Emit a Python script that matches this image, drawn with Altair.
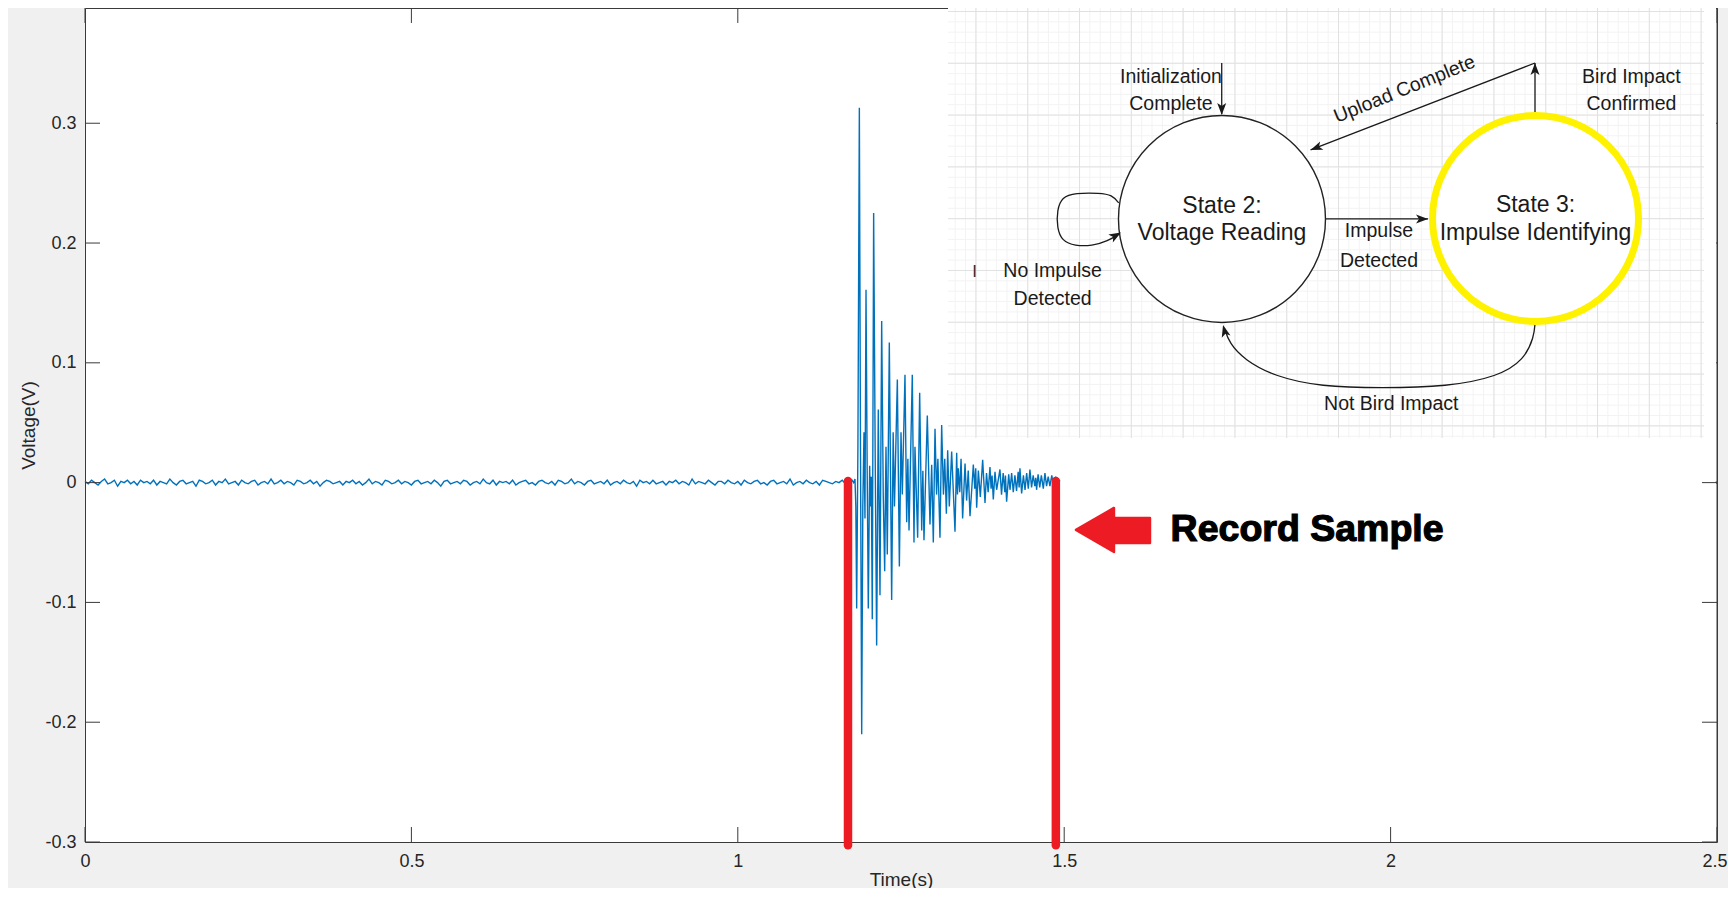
import altair as alt
import pandas as pd
import numpy as np

# ---------------- signal data ----------------
# baseline noise before the impulse, in millivolts, one value every 5 ms from t = 0 s
baseline_step = 0.005
baseline_mv = [
    1, -1, 2, 0, -2, 1, 3, -1, 0, 2, -3, 1, 0, 2, -1, 1, -2, 2, 0, 1,
    -1, 2, -2, 1, 0, -1, 3, 0, -2, 1, 2, -1, 0, 1, -3, 2, 1, -1, 0, 2,
    -2, 1, 0, 3, -1, 0, 1, -2, 2, 0, -1, 1, 2, -2, 0, 1, -1, 3, -1, 0,
    2, -1, 1, 0, -2, 2, 1, -1, 0, 2, -1, 1, -3, 0, 2, 1, -1, 0, 1, -2,
    1, 0, 2, -1, 1, -2, 0, 3, -1, 1, 0, -2, 2, 1, -1, 0, 2, -1, 1, 0,
    -2, 1, 2, -1, 0, 1, -1, 2, 0, -3, 1, 2, -1, 0, 1, -1, 2, 1, -2, 0,
    1, -1, 3, 0, -1, 2, -2, 1, 0, 1, -1, 2, -2, 0, 1, 2, -1, 0, -2, 1,
    2, 0, -1, 1, -2, 2, 1, -1, 0, 3, -1, 1, 0, -2, 1, 2, -1, 0, 1, -1,
    2, -2, 0, 1, -1, 2, 0, -1, 1, -3, 2, 0, 1, -1, 2, -1, 0, 1, -2, 1,
    0, 2, -1, 1, 0, -2, 3, -1, 1, 0, -1, 2, 0, -2, 1, 1, -1, 2, 0, -1,
    1, -2, 2, 0, -1, 1, 2, -1, 0, -2, 1, 2, -1, 0, 1, -1, 3, -2, 0, 1,
    -1, 2, 0, -1, 1, -2, 2, 1, 0, -1, 1, 0, 2, -1,
]

# impulse response (s, V)
imp_t = [
    1.1700, 1.1725, 1.1750, 1.1775, 1.1795, 1.1808, 1.1821, 1.1840, 1.1862, 1.1880,
    1.1898, 1.1915, 1.1933, 1.1948, 1.1964, 1.1982, 1.1999, 1.2020, 1.2030, 1.2045,
    1.2060, 1.2081, 1.2105, 1.2127, 1.2152, 1.2178, 1.2204, 1.2228, 1.2250, 1.2270,
    1.2290, 1.2321, 1.2357, 1.2380, 1.2400, 1.2444, 1.2475, 1.2500, 1.2520, 1.2561,
    1.2587, 1.2605, 1.2623, 1.2673, 1.2699, 1.2714, 1.2755, 1.2786, 1.2817, 1.2835,
    1.2852, 1.2903, 1.2944, 1.2970, 1.2995, 1.3021, 1.3045, 1.3065, 1.3097, 1.3123,
    1.3150, 1.3170, 1.3195, 1.3215, 1.3240, 1.3276, 1.3327, 1.3353, 1.3365, 1.3378,
    1.3400, 1.3420, 1.3444, 1.3481, 1.3505, 1.3530, 1.3557, 1.3608, 1.3630, 1.3645,
    1.3659, 1.3685, 1.3715, 1.3751, 1.3787, 1.3810, 1.3835, 1.3863, 1.3880, 1.3895,
    1.3914, 1.3940, 1.3965, 1.4016, 1.4040, 1.4065, 1.4090, 1.4100, 1.4118, 1.4150,
    1.4170, 1.4195, 1.4220, 1.4245, 1.4270, 1.4295, 1.4310, 1.4322, 1.4348, 1.4375,
    1.4400, 1.4425, 1.4450, 1.4475, 1.4500, 1.4525, 1.4550, 1.4565, 1.4577, 1.4600,
    1.4625, 1.4650, 1.4680, 1.4705, 1.4730, 1.4755, 1.4781, 1.4810, 1.4840, 1.4870,
    1.4900, 1.4934,
]
imp_v = [
    0.001, -0.001, 0.002, 0.000, 0.003, -0.020, -0.105, 0.030, 0.313, 0.020,
    -0.210, -0.020, 0.042, -0.030, 0.161, 0.010, -0.105, 0.014, -0.020, 0.005,
    -0.114, 0.225, 0.020, -0.136, 0.061, -0.094, 0.135, -0.010, -0.074, 0.030,
    -0.060, 0.117, -0.098, 0.042, -0.020, 0.086, -0.070, 0.042, -0.010, 0.090,
    -0.033, 0.020, -0.040, 0.090, -0.050, 0.030, -0.046, 0.075, -0.040, 0.010,
    -0.048, 0.056, -0.035, 0.015, -0.050, 0.045, -0.010, 0.020, -0.046, 0.048,
    -0.010, 0.020, -0.026, 0.027, -0.020, 0.026, -0.041, 0.025, -0.010, 0.012,
    -0.008, 0.020, -0.030, 0.016, -0.015, 0.010, -0.028, 0.015, -0.005, 0.012,
    -0.021, 0.010, -0.012, 0.019, -0.017, 0.008, -0.008, 0.013, -0.005, 0.006,
    -0.014, 0.009, -0.006, 0.011, -0.010, 0.008, -0.008, 0.006, -0.016, 0.007,
    -0.006, 0.008, -0.008, 0.006, -0.007, 0.009, -0.004, 0.012, -0.009, 0.006,
    -0.006, 0.008, -0.005, 0.011, -0.004, 0.006, -0.003, 0.004, -0.006, 0.007,
    -0.004, 0.006, -0.005, 0.008, -0.003, 0.005, -0.003, 0.006, -0.004, 0.005,
    -0.002, 0.002,
]

# the last visible sample at the right edge
tail_t = [2.4985, 2.5]
tail_v = [0.001, -0.001]

x_ticks = [0, 0.5, 1, 1.5, 2, 2.5]
y_ticks = [-0.3, -0.2, -0.1, 0, 0.1, 0.2, 0.3, 0.4]

# ---------------- annotations (positions in data units: s, V) ----------------
record_t = [1.1688, 1.4872]          # red "record sample" markers
record_top, record_bottom = 0.0014, -0.3028
record_arrow = (1.5165, -0.0395)
record_label = ("Record Sample", 1.6630, -0.0484)

# inset state diagram
inset_box = (1.3220, 2.4985, 0.3962, 0.0373)
state_names = ["State 2:", "State 3:"]
state_desc = ["Voltage Reading", "Impulse Identifying"]
state_t = [1.7417, 2.2220]
state_v = [0.2201, 0.2205]

small_labels = [
    ("Initialization", 1.6636, 0.3336),
    ("Complete", 1.6636, 0.3111),
    ("Bird Impact", 2.3689, 0.3336),
    ("Confirmed", 2.3689, 0.3111),
    ("Impulse", 1.9822, 0.2048),
    ("Detected", 1.9822, 0.1803),
    ("No Impulse", 1.4823, 0.1715),
    ("Detected", 1.4823, 0.1483),
    ("Not Bird Impact", 2.0010, 0.0607),
]
upload_label = ("Upload Complete", 2.0213, 0.3284)

straight_arrows = [  # t, v, t2, v2
    (1.7413, 0.3503, 1.7413, 0.3078),
    (2.2212, 0.3503, 1.8774, 0.2777),
    (2.2212, 0.3094, 2.2212, 0.3503),
    (1.9011, 0.2201, 2.0573, 0.2201),
]
arrow_heads = [  # tip t, tip v, direction (deg clockwise from up)
    (1.7413, 0.3069, 180),
    (1.8774, 0.2777, 248.8),
    (2.2212, 0.3503, 0),
    (2.0573, 0.2201, 90),
    (1.5870, 0.2088, 60),
    (1.7433, 0.1316, 345),
]
loop_t = [1.5835, 1.5732, 1.5548, 1.5165, 1.4966, 1.4890, 1.4890, 1.4966, 1.5165, 1.5426, 1.5671, 1.5839]
loop_v = [0.2335, 0.2402, 0.2418, 0.2418, 0.2385, 0.2276, 0.2126, 0.2017, 0.1976, 0.1976, 0.2017, 0.2076]
back_t = [2.2212, 2.2197, 2.2044, 2.1646, 2.0873, 1.9862, 1.8929, 1.8229, 1.7763, 1.7529, 1.7452]
back_v = [0.1331, 0.1216, 0.1024, 0.0885, 0.0801, 0.0788, 0.0801, 0.0885, 0.1024, 0.1164, 0.1291]

# ---------------- tables ----------------
sig = pd.DataFrame({
    "t": [i * baseline_step for i in range(len(baseline_mv))] + imp_t + tail_t,
    "v": [m / 1000 for m in baseline_mv] + imp_v + tail_v,
    "seg": [1] * (len(baseline_mv) + len(imp_t)) + [2] * len(tail_t),
})

FONT = "Liberation Sans"
AX = "#262626"
FRAME = "#3a3a3a"
INK = "#1a1a1a"
RED = "#ed1c24"

xs = alt.Scale(domain=[0, 2.5], nice=False, zero=False)
ys = alt.Scale(domain=[-0.3, 0.3962], nice=False, zero=False)

x_axis = alt.Axis(
    values=x_ticks, labelExpr="format(datum.value, '~g')", ticks=False, domain=False, grid=False,
    labelFont=FONT, labelFontSize=18, labelColor=AX, labelPadding=10, labelFlush=False,
    labelAlign={"condition": {"test": "datum.value == 2.5", "value": "right"}, "value": "center"},
    labelOffset={"condition": {"test": "datum.value == 2.5", "value": 10}, "value": 0},
    title="Time(s)", titleFont=FONT, titleFontSize=19, titleColor=AX, titleFontWeight="normal",
    titleY=43, titleBaseline="alphabetic",
)
y_axis = alt.Axis(
    values=y_ticks,
    labelExpr="datum.value < 0 ? '-' + format(-datum.value, '~g') : format(datum.value, '~g')",
    ticks=False, domain=False, grid=False,
    labelFont=FONT, labelFontSize=18, labelColor=AX, labelPadding=9, labelFlush=False,
    title="Voltage(V)", titleFont=FONT, titleFontSize=19, titleColor=AX, titleFontWeight="normal",
    titleX=-57, titleBaseline="middle",
)


def X(f):
    return alt.X(f, type="quantitative", scale=xs, axis=x_axis)


def Y(f):
    return alt.Y(f, type="quantitative", scale=ys, axis=y_axis)


signal = alt.Chart(sig).mark_line(color="#0072bd", strokeWidth=1.4).encode(
    x=X("t"), y=Y("v"), detail="seg:N",
)

# inward MATLAB-style ticks on all four sides
dx, dy = 0.023, 0.0125
tick_rows = []
for yv in y_ticks:
    if yv <= 0.3962:
        tick_rows.append((0, yv, dx, yv))
        tick_rows.append((2.5 - dx, yv, 2.5, yv))
for xv in x_ticks:
    tick_rows.append((xv, -0.3, xv, -0.3 + dy))
    tick_rows.append((xv, 0.3962, xv, 0.3962 - dy))
ticks = alt.Chart(pd.DataFrame(tick_rows, columns=["t", "v", "t2", "v2"])).mark_rule(
    color=FRAME, strokeWidth=1
).encode(x=X("t"), y=Y("v"), x2="t2", y2="v2")

# inset background and its draw.io-like grid
box = pd.DataFrame([inset_box], columns=["t", "t2", "v", "v2"])
inset = alt.Chart(box).mark_rect(color="white").encode(x=X("t"), x2="t2", y=Y("v"), y2="v2")

tx_major = np.arange(1.3648, 2.481, 0.07935)
tx_minor = np.arange(1.3330, 2.4795, 0.015870)
vy_major = 0.3933 - 0.04324 * np.arange(9)
vy_minor = 0.3933 - 0.008648 * np.arange(42)


def grid_layer(tv, vv, color):
    rows = [(t, inset_box[2], t, inset_box[3]) for t in tv]
    rows += [(inset_box[0], v, 2.4801, v) for v in vv]
    return alt.Chart(pd.DataFrame(rows, columns=["t", "v", "t2", "v2"])).mark_rule(
        color=color, strokeWidth=1
    ).encode(x=X("t"), y=Y("v"), x2="t2", y2="v2")


grid_minor = grid_layer(tx_minor, vy_minor, "#f3f3f3")
grid_major = grid_layer(tx_major, vy_major, "#e1e1e1")

lines = alt.Chart(pd.DataFrame(straight_arrows, columns=["t", "v", "t2", "v2"])).mark_rule(
    color=INK, strokeWidth=1.3
).encode(x=X("t"), y=Y("v"), x2="t2", y2="v2")

curves_df = pd.DataFrame({
    "t": loop_t + back_t,
    "v": loop_v + back_v,
    "c": ["loop"] * len(loop_t) + ["back"] * len(back_t),
    "i": list(range(len(loop_t))) + list(range(len(back_t))),
})
curves = alt.Chart(curves_df).mark_line(color=INK, strokeWidth=1.3, interpolate="basis").encode(
    x=X("t"), y=Y("v"), detail="c:N", order="i:Q"
)

st = pd.DataFrame({"t": state_t, "v": state_v, "name": state_names, "desc": state_desc})
circle2 = alt.Chart(st.iloc[[0]]).mark_point(
    shape="circle", size=207 ** 2, filled=True, color="white", opacity=1, stroke="#222222", strokeWidth=1.4
).encode(x=X("t"), y=Y("v"))
circle3 = alt.Chart(st.iloc[[1]]).mark_point(
    shape="circle", size=206 ** 2, filled=True, color="white", opacity=1, stroke="#fff200", strokeWidth=7
).encode(x=X("t"), y=Y("v"))

HEAD = "M0,0L4.5,12L0,9L-4.5,12Z"
heads = alt.Chart(pd.DataFrame(arrow_heads, columns=["t", "v", "a"])).mark_point(
    shape=HEAD, size=4, filled=True, color=INK, opacity=1
).encode(x=X("t"), y=Y("v"), angle=alt.Angle("a:Q", scale=None))

st_names = alt.Chart(st).mark_text(
    font=FONT, fontSize=23, align="center", baseline="alphabetic", color=INK
).encode(x=X("t"), y=Y("vv:Q"), text="name:N").transform_calculate(
    vv="datum.v + 0.0050"
)
st_desc = alt.Chart(st).mark_text(
    font=FONT, fontSize=23, align="center", baseline="alphabetic", color=INK
).encode(x=X("t"), y=Y("vv:Q"), text="desc:N").transform_calculate(
    vv="datum.v - 0.0179"
)

small = alt.Chart(pd.DataFrame(small_labels, columns=["s", "t", "v"])).mark_text(
    font=FONT, fontSize=19.5, align="center", baseline="alphabetic", color=INK
).encode(x=X("t"), y=Y("v"), text="s:N")
upload = alt.Chart(pd.DataFrame([upload_label], columns=["s", "t", "v"])).mark_text(
    font=FONT, fontSize=19.5, align="center", baseline="middle", color=INK, angle=338
).encode(x=X("t"), y=Y("v"), text="s:N")
stray = alt.Chart(pd.DataFrame([("I", 1.3626, 0.1761)], columns=["s", "t", "v"])).mark_text(
    font=FONT, fontSize=17, align="center", baseline="middle", color="#3b2a2a"
).encode(x=X("t"), y=Y("v"), text="s:N")

right_border = alt.Chart(pd.DataFrame([(2.5, -0.3, 0.3962)], columns=["t", "v", "v2"])).mark_rule(
    color=FRAME, strokeWidth=1
).encode(x=X("t"), y=Y("v"), y2="v2")

# red markers and label
red_df = pd.DataFrame({"t": record_t, "v": [record_top] * 2, "v2": [record_bottom] * 2})
red_lines = alt.Chart(red_df).mark_rule(color=RED, strokeWidth=8.5, strokeCap="round").encode(
    x=X("t"), y=Y("v"), y2="v2"
)
BIG_ARROW = "M1,0L39,-22L39,-12L75,-12L75,13L39,13L39,22Z"
red_arrow = alt.Chart(pd.DataFrame([record_arrow], columns=["t", "v"])).mark_point(
    shape=BIG_ARROW, size=4, filled=True, color=RED, opacity=1, stroke=RED, strokeWidth=2.5, strokeJoin="round"
).encode(x=X("t"), y=Y("v"))
red_text = alt.Chart(pd.DataFrame([record_label], columns=["s", "t", "v"])).mark_text(
    font=FONT, fontSize=37.5, fontWeight="bold", align="left", baseline="alphabetic",
    color="#000000", stroke="#000000", strokeWidth=1.2
).encode(x=X("t"), y=Y("v"), text="s:N")

chart = alt.layer(
    signal, ticks, inset, grid_minor, grid_major, lines, curves, circle2, circle3, heads,
    st_names, st_desc, small, upload, stray, right_border, red_lines, red_arrow, red_text,
).properties(
    width=1632, height=834,
    autosize=alt.AutoSizeParams(type="none"),
    padding={"left": 77, "top": 0, "right": 11, "bottom": 46},
    background="#f0f0f0",
).configure_view(fill="white", stroke=FRAME, strokeWidth=1)

chart.save("out.html", embed_options={"renderer": "svg", "actions": False})
